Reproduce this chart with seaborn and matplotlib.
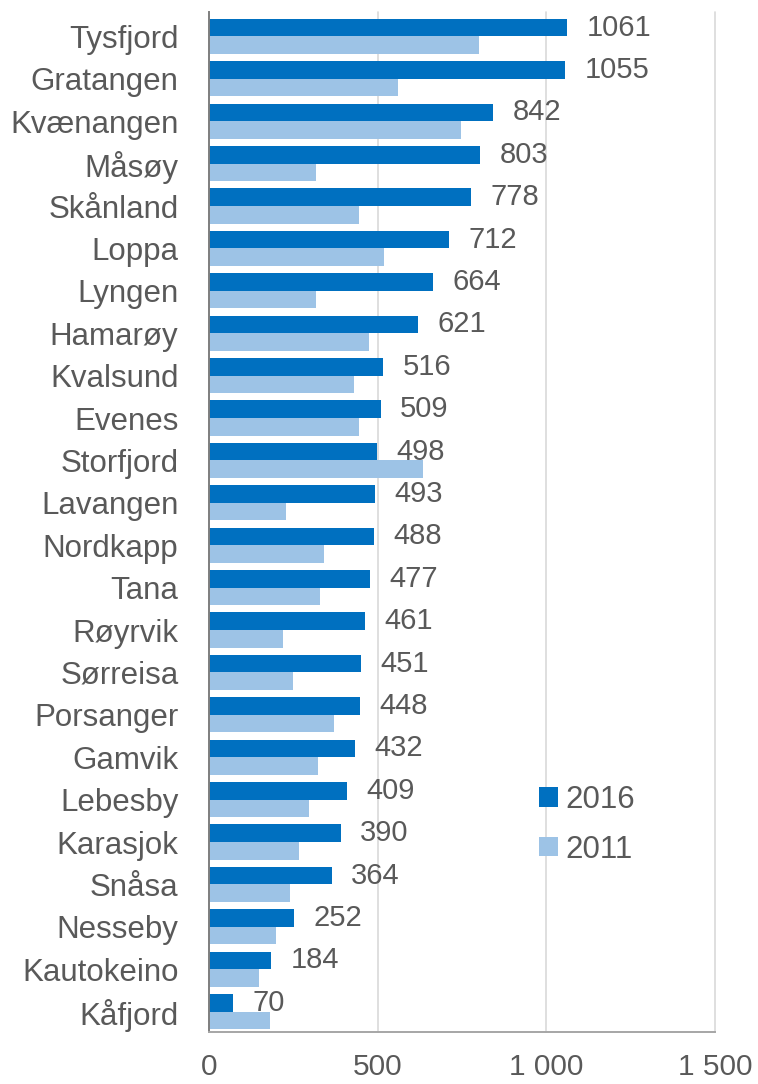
import matplotlib
matplotlib.use("Agg")
import matplotlib.pyplot as plt
from matplotlib.ticker import FuncFormatter
from matplotlib.patches import Patch
import seaborn as sns
import pandas as pd

kommuner = ["Tysfjord", "Gratangen", "Kvænangen", "Måsøy", "Skånland", "Loppa",
            "Lyngen", "Hamarøy", "Kvalsund", "Evenes", "Storfjord", "Lavangen",
            "Nordkapp", "Tana", "Røyrvik", "Sørreisa", "Porsanger", "Gamvik",
            "Lebesby", "Karasjok", "Snåsa", "Nesseby", "Kautokeino", "Kåfjord"]
verdi_2016 = [1061, 1055, 842, 803, 778, 712, 664, 621, 516, 509, 498, 493,
              488, 477, 461, 451, 448, 432, 409, 390, 364, 252, 184, 70]
verdi_2011 = [800, 561, 746, 316, 444, 518, 317, 474, 430, 444, 635, 229,
              341, 330, 218, 248, 371, 323, 297, 267, 239, 199, 147, 180]
aar = ["2016", "2011"]
x_ticks = [0, 500, 1000, 1500]

df = pd.DataFrame({
    "kommune": kommuner * 2,
    "verdi": verdi_2016 + verdi_2011,
    "år": [aar[0]] * len(kommuner) + [aar[1]] * len(kommuner),
})

sns.set_theme(style="white")
plt.rcParams["font.family"] = ["Liberation Sans", "DejaVu Sans"]
tekst = "#595959"
farger = {"2016": "#0070C0", "2011": "#9DC3E6"}

fig = plt.figure(figsize=(7.58, 10.84), dpi=100)
ax = fig.add_axes([0.2757, 0.048, 0.6676, 0.9411])

sns.barplot(data=df, y="kommune", x="verdi", hue="år", hue_order=aar,
            order=kommuner, orient="h", palette=farger, width=0.83, gap=0,
            saturation=1, legend=False, ax=ax, linewidth=0)

ax.bar_label(ax.containers[0], fmt="%d", padding=14, fontsize=21, color=tekst,
             label_type="edge")

ax.set_xlim(0, 1500)
ax.set_ylim(len(kommuner) - 0.52, -0.58)
ax.set_xticks(x_ticks)
ax.xaxis.set_major_formatter(FuncFormatter(lambda v, p: f"{int(v):,}".replace(",", " ")))
ax.grid(axis="x", color="#D9D9D9", linewidth=1.2)
ax.grid(axis="y", visible=False)
ax.set_axisbelow(True)
for g in ax.get_xgridlines():
    g.set_clip_on(False)

for side in ("top", "right"):
    ax.spines[side].set_visible(False)
ax.spines["left"].set_color("#7F7F7F")
ax.spines["left"].set_linewidth(1.4)
ax.spines["bottom"].set_color("#A6A6A6")
ax.spines["bottom"].set_linewidth(1.4)

ax.tick_params(axis="y", length=0, pad=22, labelsize=22.5, labelcolor=tekst)
ax.tick_params(axis="x", length=0, pad=15, labelsize=21.5, labelcolor=tekst)
ax.set_xlabel("")
ax.set_ylabel("")

handles = [Patch(facecolor=farger[a], edgecolor="none", label=a) for a in aar]
leg = ax.legend(handles=handles, loc="center left", bbox_to_anchor=(0.627, 0.203),
                frameon=False, fontsize=22.5, handlelength=0.6, handleheight=0.6,
                handletextpad=0.25, labelspacing=0.62, borderaxespad=0)
for t in leg.get_texts():
    t.set_color(tekst)

fig.savefig("out.png", dpi=100)
